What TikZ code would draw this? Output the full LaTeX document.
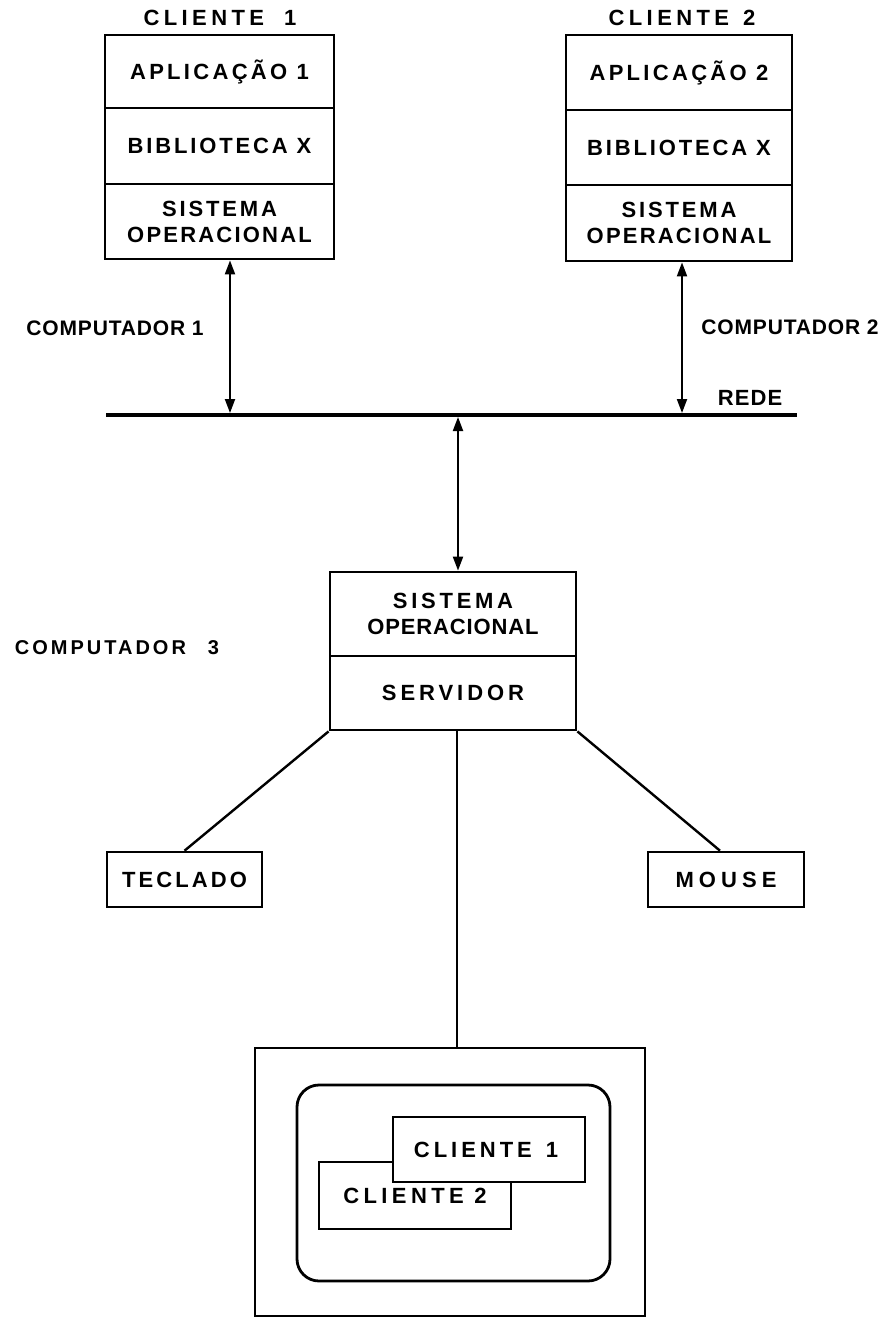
\documentclass[tikz,border=0pt]{standalone}
\usepackage{fontspec}
\setmainfont{Liberation Sans}
\usetikzlibrary{arrows.meta}
\newcommand\trk[2]{{\addfontfeatures{LetterSpace=#1}#2}}
\tikzset{
  lbl/.style={font=\bfseries\fontsize{22}{27}\selectfont, align=center, inner sep=0pt},
  layer/.style={draw, line width=2.8pt, minimum width=229pt, inner sep=0pt, lbl},
  smallbox/.style={draw, line width=2.6pt, minimum width=156pt, minimum height=55pt, inner sep=0pt, lbl},
  conn/.style={line width=2.4pt},
  biarrow/.style={line width=2pt, {Triangle[length=14pt,width=10pt]}-{Triangle[length=14pt,width=10pt]}},
  netline/.style={line width=4.5pt},
}
\begin{document}
\begin{tikzpicture}[x=1pt,y=-1pt]
\useasboundingbox (0,0) rectangle (887,1319);
% Client 1
\node[lbl] (t1) at (220,18) {\trk{20}{CLIENTE\hspace{20pt}1}};
\node[layer, minimum height=73pt] (a1) at (219.5,71.5) {\trk{15}{APLICAÇÃO 1}};
\node[layer, minimum height=76pt] (b1) at (219.5,146) {\trk{13}{BIBLIOTECA X}};
\node[layer, minimum height=75pt] (s1) at (219.5,221.5) {\trk{13}{SISTEMA}\\[-1pt]\trk{10}{OPERACIONAL}};
% Client 2
\node[lbl] (t2) at (682,18) {\trk{20}{CLIENTE\hspace{14pt}2}};
\node[layer, minimum width=226pt, minimum height=75pt] (a2) at (679,72.5) {\trk{15}{APLICAÇÃO 2}};
\node[layer, minimum width=226pt, minimum height=75pt] (b2) at (679,147.5) {\trk{13}{BIBLIOTECA X}};
\node[layer, minimum width=226pt, minimum height=76pt] (s2) at (679,223) {\trk{13}{SISTEMA}\\[-1pt]\trk{10}{OPERACIONAL}};
% Network
\coordinate (netL) at (106,415);
\coordinate (netR) at (797,415);
\draw[netline] (netL) -- (netR);
\coordinate (n1) at (230,413);
\coordinate (n2) at (682,413);
\coordinate (n3) at (458,417);
\draw[biarrow] (n1 |- s1.south) -- (n1);
\draw[biarrow] (n2 |- s2.south) -- (n2);
\node[lbl, font=\bfseries\fontsize{21}{25}\selectfont] (c1) at (115,328) {\trk{4}{COMPUTADOR 1}};
\node[lbl, font=\bfseries\fontsize{21}{25}\selectfont] (c2) at (790,327) {\trk{4}{COMPUTADOR 2}};
\node[lbl] (rede) at (750,398) {\trk{5}{REDE}};
% Server
\node[layer, minimum width=246pt, minimum height=84pt] (so) at (453,614) {\trk{17}{SISTEMA}\\[-1pt]\trk{4}{OPERACIONAL}};
\node[layer, minimum width=246pt, minimum height=74pt] (sv) at (453,693) {\trk{18}{SERVIDOR}};
\draw[biarrow] (n3) -- (n3 |- so.north);
\node[lbl, font=\bfseries\fontsize{20}{25}\selectfont] (c3) at (117,648) {\trk{15}{COMPUTADOR\hspace{22pt}3}};
% Peripherals
\node[smallbox, minimum width=155pt] (tec) at (184.5,879.5) {\trk{14}{TECLADO}};
\node[smallbox] (mou) at (726,879.5) {\trk{23}{MOUSE}};
\node[draw, line width=2.6pt, minimum width=390pt, minimum height=268pt] (mon) at (450,1182) {};
\node[draw, line width=2.8pt, rounded corners=22pt, minimum width=313pt, minimum height=196pt] (scr) at (453.5,1183) {};
\node[smallbox, minimum width=192pt, minimum height=67pt, fill=white] (w2) at (415,1195.5) {\trk{20}{CLIENTE 2}};
\node[smallbox, minimum width=192pt, minimum height=65pt, fill=white] (w1) at (489,1149.5) {\hspace*{-6pt}\trk{18}{CLIENTE\hspace{14pt}1}};
\draw[conn] (sv.south west) -- (tec.north);
\draw[conn] (sv.south east) -- ([xshift=-6pt]mou.north);
\draw[conn] ([xshift=4pt]sv.south) -- ([xshift=4pt]sv.south |- mon.north);
\end{tikzpicture}
\end{document}
